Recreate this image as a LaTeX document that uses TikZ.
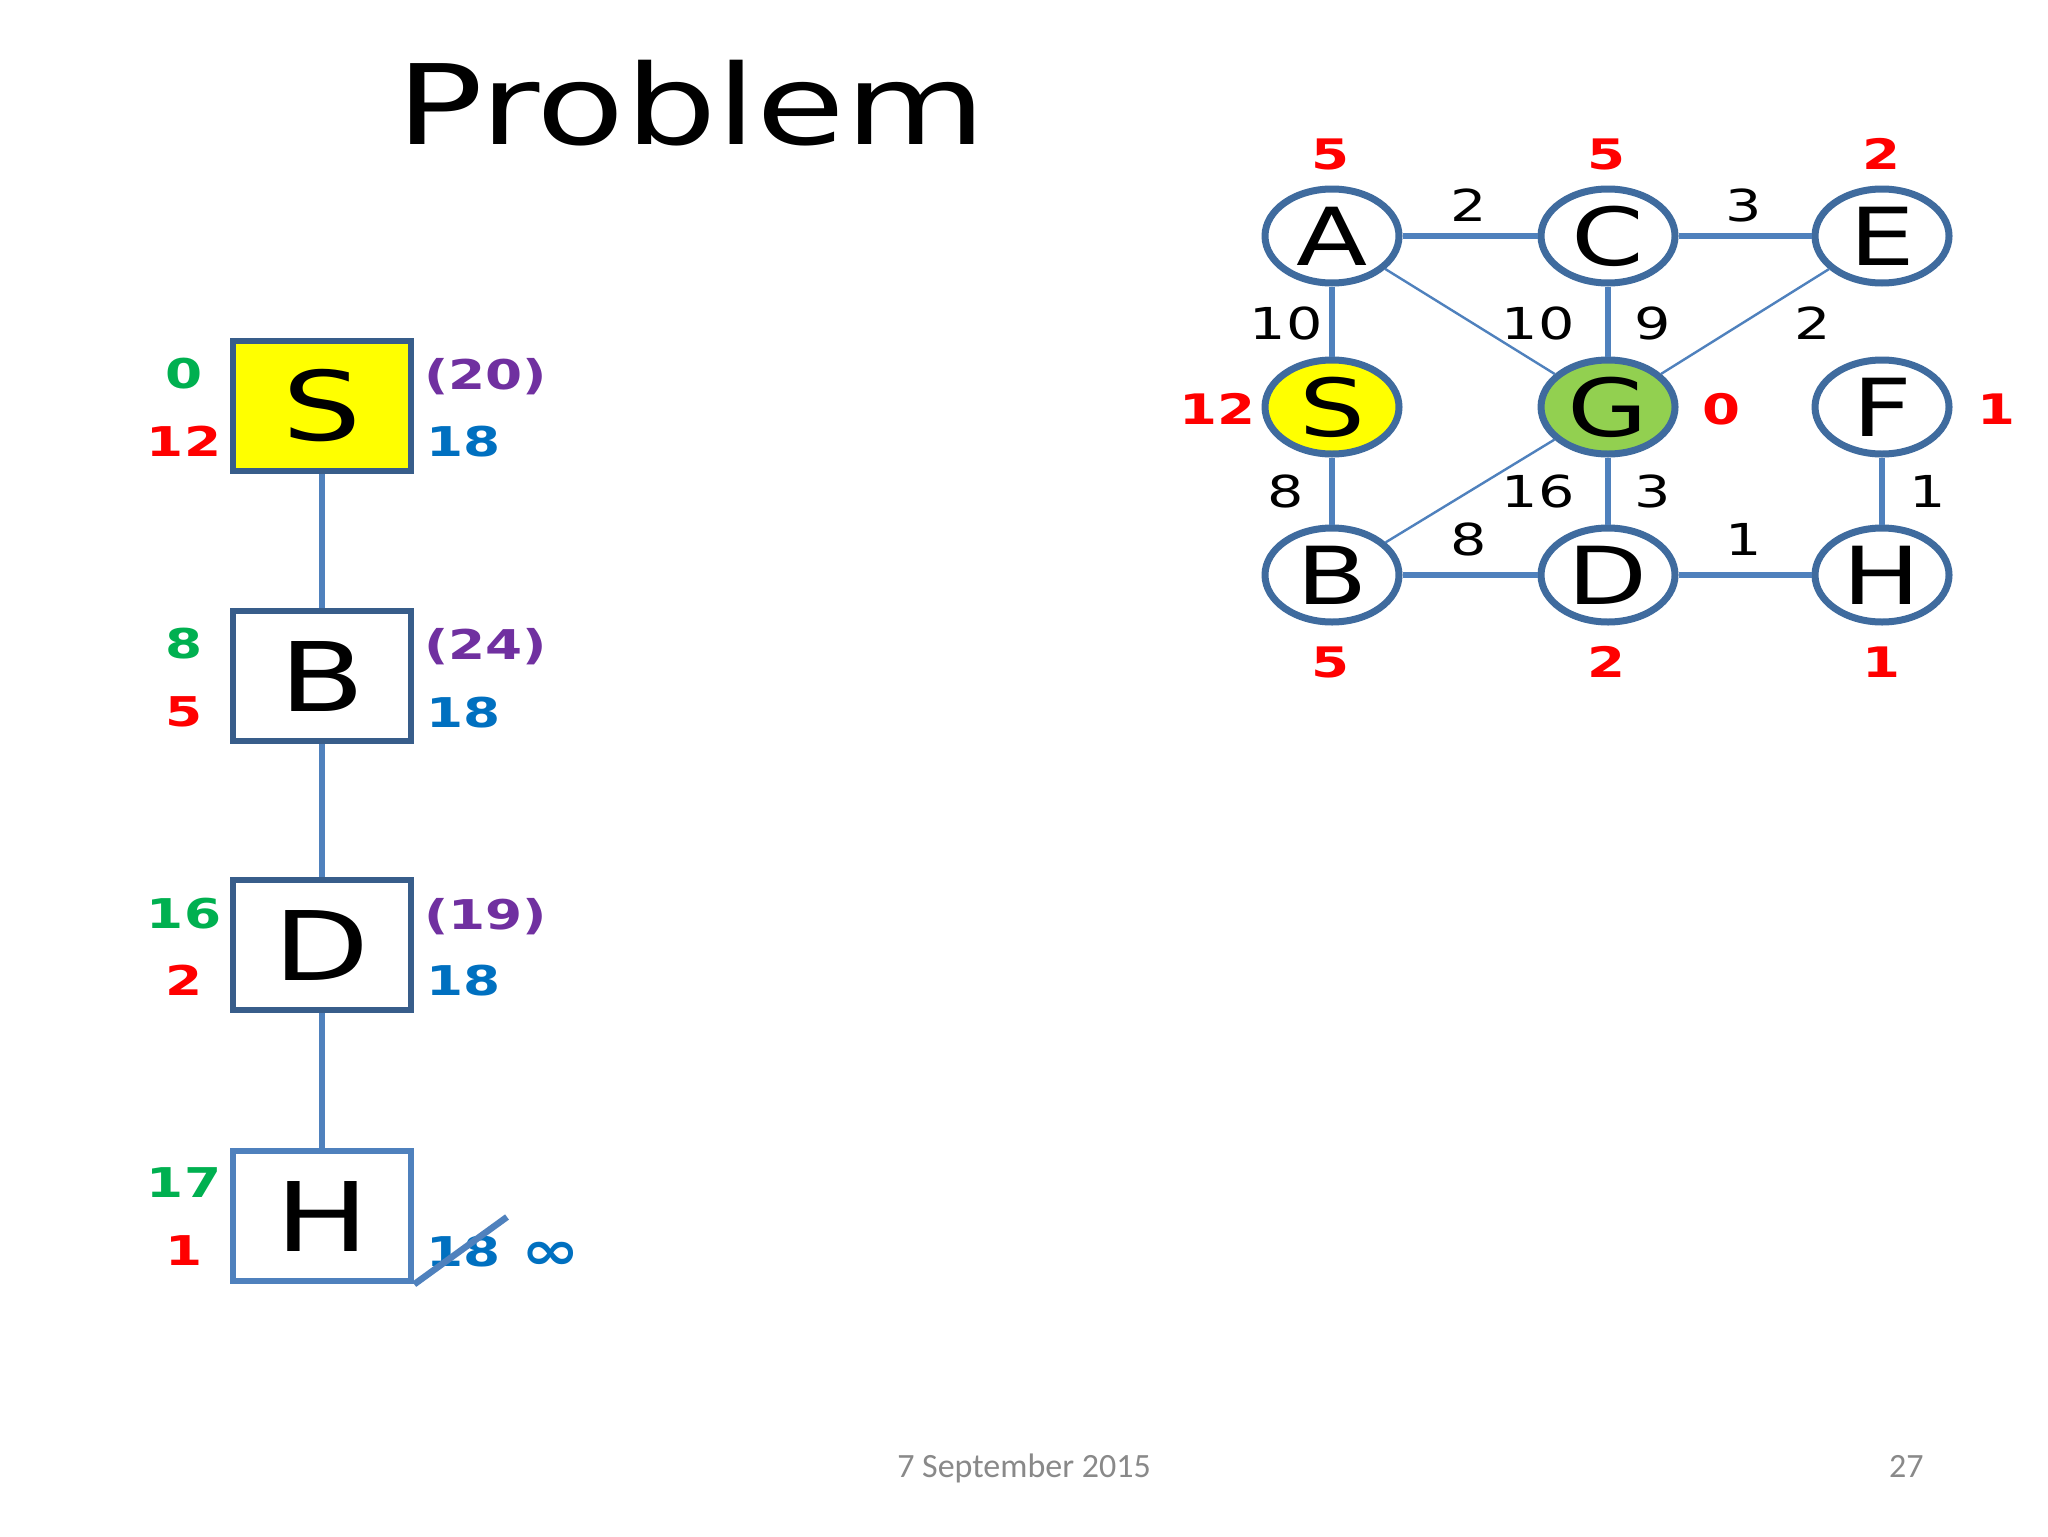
\documentclass[tikz,border=0pt]{standalone}
\usepackage{fontspec}
\setmainfont{DejaVu Sans}[FakeStretch=1.3]
\newfontfamily\footfont{Carlito}
\usetikzlibrary{shapes.geometric}
\definecolor{edgeblue}{HTML}{4F81BD}
\definecolor{boxblue}{HTML}{385D8A}
\definecolor{ringblue}{HTML}{3F6B9E}
\definecolor{gred}{HTML}{FF0000}
\definecolor{ggreen}{HTML}{00B050}
\definecolor{gpurple}{HTML}{7030A0}
\definecolor{gblue}{HTML}{0070C0}
\definecolor{sfill}{HTML}{FFFF00}
\definecolor{gfill}{HTML}{92D050}
\definecolor{footgray}{HTML}{898989}
\begin{document}
\begin{tikzpicture}[x=0.5pt,y=-0.5pt,
  gnode/.style={ellipse, draw=ringblue, line width=3.5pt, fill=white,
    minimum width=67pt, minimum height=47pt, inner sep=0pt,
    font=\fontsize{40}{40}\selectfont},
  tbox/.style={rectangle, draw=boxblue, line width=3.25pt, fill=white,
    minimum width=89pt, minimum height=65pt, inner sep=0pt,
    font=\fontsize{48}{48}\selectfont},
  thickedge/.style={draw=edgeblue, line width=3pt},
  thinedge/.style={draw=edgeblue, line width=1.2pt},
  wlab/.style={inner sep=0pt, font=\fontsize{22}{22}\selectfont},
  rlab/.style={inner sep=0pt, text=gred, font=\bfseries\fontsize{21}{21}\selectfont},
  glab/.style={inner sep=0pt, text=ggreen, font=\bfseries\fontsize{20.5}{20.5}\selectfont},
  tred/.style={inner sep=0pt, text=gred, font=\bfseries\fontsize{20.5}{20.5}\selectfont},
  plab/.style={inner sep=0pt, anchor=base west, text=gpurple, font=\bfseries\fontsize{20.5}{20.5}\selectfont},
  blab/.style={inner sep=0pt, anchor=base west, text=gblue, font=\bfseries\fontsize{20.5}{20.5}\selectfont},
  foot/.style={inner sep=0pt, text=footgray, font=\footfont\fontsize{17}{17}\selectfont}
]
\useasboundingbox[fill=white] (0,0) rectangle (2048,1536);

% title
\node[inner sep=0pt, anchor=base, font=\fontsize{55.5}{55.5}\selectfont] (title) at (691,144) {Problem};

% ---------- graph ----------
\node[gnode] (A) at (1332,236) {A};
\node[gnode] (C) at (1608,236) {C};
\node[gnode] (E) at (1882,236) {E};
\node[gnode, fill=sfill] (S) at (1332,407) {S};
\node[gnode, fill=gfill] (G) at (1608,407) {G};
\node[gnode] (F) at (1882,407) {F};
\node[gnode] (B) at (1332,575) {B};
\node[gnode] (D) at (1608,575) {D};
\node[gnode] (H) at (1882,575) {H};

\draw[thickedge] (A) -- (C);
\draw[thickedge] (C) -- (E);
\draw[thickedge] (A) -- (S);
\draw[thickedge] (S) -- (B);
\draw[thickedge] (B) -- (D);
\draw[thickedge] (D) -- (H);
\draw[thickedge] (C) -- (G);
\draw[thickedge] (G) -- (D);
\draw[thickedge] (F) -- (H);
\draw[thinedge] (A) -- (G);
\draw[thinedge] (E) -- (G);
\draw[thinedge] (B) -- (G);

% edge weights
\node[wlab] (wAC) at (1469,205) {2};
\node[wlab] (wCE) at (1744,205) {3};
\node[wlab] (wAS) at (1286,323) {10};
\node[wlab] (wAG) at (1538,323) {10};
\node[wlab] (wCG) at (1653,323) {9};
\node[wlab] (wEG) at (1813,323) {2};
\node[wlab] (wSB) at (1286,491) {8};
\node[wlab] (wBG) at (1538,491) {16};
\node[wlab] (wGD) at (1653,491) {3};
\node[wlab] (wFH) at (1928,491) {1};
\node[wlab] (wBD) at (1469,539) {8};
\node[wlab] (wDH) at (1744,539) {1};

% heuristic labels
\node[rlab] (hA) at (1330,154) {5};
\node[rlab] (hC) at (1606,154) {5};
\node[rlab] (hE) at (1881,154) {2};
\node[rlab] (hS) at (1217,409) {12};
\node[rlab] (hG) at (1721,409) {0};
\node[rlab] (hF) at (1996,409) {1};
\node[rlab] (hB) at (1330,662) {5};
\node[rlab] (hD) at (1606,662) {2};
\node[rlab] (hH) at (1881,662) {1};

% ---------- tree ----------
\node[tbox, fill=sfill] (tS) at (322,406) {S};
\node[tbox] (tB) at (322,676) {B};
\node[tbox] (tD) at (322,945) {D};
\node[tbox, draw=edgeblue] (tH) at (322,1216) {H};

\draw[thickedge] (tS) -- (tB);
\draw[thickedge] (tB) -- (tD);
\draw[thickedge] (tD) -- (tH);

\node[glab] (gS) at (184,374) {0};
\node[tred] (rS) at (184,441) {12};
\node[plab] (pS) at (424,389) {(20)};
\node[blab] (bS) at (426,456) {18};

\node[glab] (gB) at (184,644) {8};
\node[tred] (rB) at (184,712) {5};
\node[plab] (pB) at (424,659) {(24)};
\node[blab] (bB) at (426,727) {18};

\node[glab] (gD) at (184,914) {16};
\node[tred] (rD) at (184,980) {2};
\node[plab] (pD) at (424,929) {(19)};
\node[blab] (bD) at (426,995) {18};

\node[glab] (gH) at (184,1183) {17};
\node[tred] (rH) at (184,1251) {1};
\node[blab] (bH) at (426,1266) {18};
\node[inner sep=0pt, text=gblue, font=\bfseries\fontsize{27}{27}\selectfont] (inf) at (551,1256) {∞};
\coordinate (slashend) at (507,1217);
\draw[draw=edgeblue, line width=3.25pt] (tH.south east) -- (slashend);

% footer
\node[foot, anchor=base] (date) at (1024,1477) {7 September 2015};
\node[foot, anchor=base east] (page) at (1924,1477) {27};
\end{tikzpicture}
\end{document}
